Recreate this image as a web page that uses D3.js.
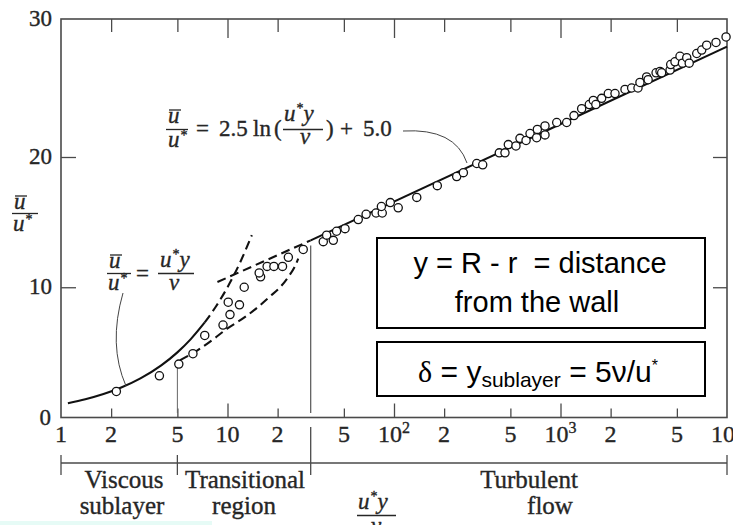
<!DOCTYPE html>
<html><head><meta charset="utf-8">
<script src="https://cdn.jsdelivr.net/npm/d3@7"></script>
<style>body{margin:0;background:#fff;} svg{display:block;}</style>
</head><body>
<script>
// ---------- data ----------
const xTickValues = [1,2,5,10,20,50,100,200,500,1000,2000,5000,10000];
const xTickLabels = ["1","2","5","10","2","5","10","2","5","10","2","5","10"];
const xTickSups   = ["","","","","","","2","","","3","","","4"];
const xMajorTicks = [10,100,1000];
const xMinorTicks = [2,5,20,50,200,500,2000,5000];
const yTickValues = [0,10,20,30];
const yTickLabels = ["0","10","20","30"];

const dataX = [2.15,3.9,5.1,6.2,7.3,9.4,10.35,10.1,11.8,12.6,15.8,15.5,17.3,19.0,21.4,23.2,28.5,
  37.6,39.4,43.2,45.2,50.8,61,68,78,85,84,95,106,137,182,238,261,314,341,
  429,464,486,540,571,621,656,719,726,807,807,949,1089,1205,1340,1489,1574,1630,1767,1937,
  2125,2440,2675,2920,3000,3290,3360,3750,3960,4050,4550,4590,4870,5220,5400,5730,5930,
  6580,7050,7550,8590,9870];
const dataY = [2.0,3.2,4.1,4.9,6.3,7.1,7.9,8.85,8.65,10.0,10.8,11.1,11.6,11.6,11.6,12.3,12.9,
  13.5,14.0,13.6,14.3,14.5,15.2,15.6,15.7,15.7,16.2,16.5,16.1,16.9,17.8,18.5,18.8,19.5,19.4,
  20.3,20.3,20.9,20.8,21.35,21.2,21.7,21.4,22.0,22.25,21.6,22.5,22.5,23.0,23.5,23.8,24.1,23.8,24.25,24.6,
  24.6,24.9,25.0,25.0,25.4,25.8,25.6,26.1,26.2,26.1,26.3,26.7,26.9,27.3,26.8,27.2,26.8,
  27.5,27.75,28.1,28.3,28.7];

const sublayerSolidX = [1.1,1.4,1.8,2.3,3,4,5,6,7.3];
const sublayerSolidY = [1.1,1.4,1.8,2.3,3,4,5,6,7.3];
const sublayerDashX = [7.3,8.5,10,12,14];
const sublayerDashY = [7.3,8.5,10,12,14];
const logLawSolidX = [31.6,10000];
const logLawSolidY = [13.6,28.0];
const logLawDashX = [8.7,31.6];
const logLawDashY = [10.4,13.6];
const transitionDashX = [5.2,6.5,8.2,9.9,12.7,15.3,18,20.7,23.2,25.4,26.6];
const transitionDashY = [4.4,5.1,6.0,6.8,7.7,8.5,9.3,10.0,10.8,11.6,12.2];
const regionBounds = [1,5,31.6,10000];

// ---------- setup ----------
const W = 733, H = 525;
const svg = d3.select("body").append("svg").attr("width",W).attr("height",H);
const x = d3.scaleLog().domain([1,10000]).range([61,727]);
const y = d3.scaleLinear().domain([0,20,30]).range([417.5,157,19]);
const frameCol = "#4a4a4a", textCol = "#262626";
const serif = "'Liberation Serif','Times New Roman',serif";
const sans = "'Liberation Sans',Arial,sans-serif";

// bottom-left artifact strip
svg.append("rect").attr("x",0).attr("y",521).attr("width",212).attr("height",4).attr("fill","#e6fbf6");

// frame
svg.append("rect").attr("x",x(1)).attr("y",y(30)).attr("width",x(10000)-x(1)).attr("height",y(0)-y(30))
  .attr("fill","none").attr("stroke",frameCol).attr("stroke-width",1.6);

function styleAxis(g){ g.select(".domain").remove(); g.selectAll(".tick line").attr("stroke",frameCol).attr("stroke-width",1.3); }
svg.append("g").attr("transform",`translate(0,${y(0)})`)
  .call(d3.axisBottom(x).tickValues(xMinorTicks).tickSizeInner(-9).tickSizeOuter(0).tickFormat("")).call(styleAxis);
svg.append("g").attr("transform",`translate(0,${y(0)})`)
  .call(d3.axisBottom(x).tickValues(xMajorTicks).tickSizeInner(-14).tickSizeOuter(0).tickFormat("")).call(styleAxis);
svg.append("g").attr("transform",`translate(0,${y(30)})`)
  .call(d3.axisTop(x).tickValues(xMinorTicks).tickSizeInner(-13).tickSizeOuter(0).tickFormat("")).call(styleAxis);
svg.append("g").attr("transform",`translate(0,${y(30)})`)
  .call(d3.axisTop(x).tickValues(xMajorTicks).tickSizeInner(-19).tickSizeOuter(0).tickFormat("")).call(styleAxis);
svg.append("g").attr("transform",`translate(${x(1)},0)`)
  .call(d3.axisLeft(y).tickValues([10,20]).tickSizeInner(-15).tickSizeOuter(0).tickFormat("")).call(styleAxis);
svg.append("g").attr("transform",`translate(${x(10000)},0)`)
  .call(d3.axisRight(y).tickValues([10,20]).tickSizeInner(-14).tickSizeOuter(0).tickFormat("")).call(styleAxis);

function heavy(t){ return t.attr("stroke",textCol).attr("stroke-width",0.35); }

// x tick labels
xTickValues.forEach((v,i)=>{
  const t = svg.append("text").attr("x",x(v)).attr("y",442).attr("text-anchor","middle")
    .attr("font-family",serif).attr("font-size",24).attr("fill",textCol).text(xTickLabels[i]);
  heavy(t);
  if (xTickSups[i]) t.append("tspan").attr("dy",-9).attr("font-size",16).text(xTickSups[i]);
});
// y tick labels
yTickValues.forEach((v,i)=>{
  heavy(svg.append("text").attr("x", v===0?51:52).attr("y",y(v)+7).attr("text-anchor","end")
    .attr("font-family",serif).attr("font-size",23).attr("fill",textCol).text(yTickLabels[i]));
});

// boundary vertical lines inside plot
svg.append("line").attr("x1",x(regionBounds[1])).attr("x2",x(regionBounds[1])).attr("y1",y(3.9)).attr("y2",413)
  .attr("stroke","#666").attr("stroke-width",1);
svg.append("line").attr("x1",x(regionBounds[2])).attr("x2",x(regionBounds[2])).attr("y1",y(13.2)).attr("y2",413)
  .attr("stroke","#555").attr("stroke-width",1.2);

// region ruler
svg.append("line").attr("x1",x(1)).attr("x2",x(10000)).attr("y1",463).attr("y2",463).attr("stroke",frameCol).attr("stroke-width",1.4);
regionBounds.forEach((b,i)=>{
  svg.append("line").attr("x1",x(b)).attr("x2",x(b)).attr("y1",i===2?427:455).attr("y2",475)
    .attr("stroke",frameCol).attr("stroke-width",1.3);
});
const regionText = [[124,"Viscous",488],[122,"sublayer",514],[245,"Transitional",488],[244,"region",514],[529,"Turbulent",488],[550,"flow",514]];
regionText.forEach(r=>heavy(svg.append("text").attr("x",r[0]).attr("y",r[2]).attr("text-anchor","middle")
  .attr("font-family",serif).attr("font-size",25).attr("fill",textCol).text(r[1])));

// curves
const line = d3.line().x(d=>x(d[0])).y(d=>y(d[1])).curve(d3.curveMonotoneX);
const zip = (a,b)=>a.map((v,i)=>[v,b[i]]);
function drawLine(xs,ys,dashed){
  svg.append("path").datum(zip(xs,ys)).attr("d",line).attr("fill","none").attr("stroke","#111")
    .attr("stroke-width",2.1).attr("stroke-dasharray",dashed?"9,5":null);
}
drawLine(sublayerSolidX,sublayerSolidY,false);
drawLine(sublayerDashX,sublayerDashY,true);
drawLine(logLawDashX,logLawDashY,true);
drawLine(transitionDashX,transitionDashY,true);
drawLine(logLawSolidX,logLawSolidY,false);

// leaders
svg.append("path").attr("d","M403,131 Q455,128 467,163").attr("fill","none").attr("stroke","#444").attr("stroke-width",1);
svg.append("path").attr("d","M123,293 Q108,345 126,386").attr("fill","none").attr("stroke","#444").attr("stroke-width",1);

// points
svg.append("g").selectAll("circle").data(zip(dataX,dataY)).join("circle")
  .attr("cx",d=>x(d[0])).attr("cy",d=>y(d[1])).attr("r",4.1)
  .attr("fill","#fff").attr("stroke","#111").attr("stroke-width",1.3);

// ---------- math helpers ----------
const MS = 23;
function txt(xp,yp,s,opts={}){
  const t = svg.append("text").attr("x",xp).attr("y",yp).attr("font-family",serif)
    .attr("font-size",opts.size||MS).attr("fill",opts.fill||textCol)
    .attr("text-anchor",opts.anchor||"start");
  heavy(t);
  if (opts.italic) t.attr("font-style","italic");
  if (s!==null) t.text(s);
  return t;
}
function hline(x1,x2,yy,w){ svg.append("line").attr("x1",x1).attr("x2",x2).attr("y1",yy).attr("y2",yy).attr("stroke",textCol).attr("stroke-width",w||1.3); }
function uStar(xl,base){ // u*  (left-aligned)
  const t = txt(xl,base,null,{});
  t.append("tspan").attr("font-style","italic").text("u");
  t.append("tspan").attr("dy",-7).attr("dx",1).attr("font-size",14).text("*");
}
function uBar(xl,base){
  txt(xl,base,"u",{italic:true});
  hline(xl+1,xl+13,base-13,1.3);
}
function uStarY(xl,base){
  const t = txt(xl,base,null,{});
  t.append("tspan").attr("font-style","italic").text("u");
  t.append("tspan").attr("dy",-8).attr("dx",1).attr("font-size",14).text("*");
  t.append("tspan").attr("dy",8).attr("font-style","italic").text("y");
}
function nu(xl,base){ txt(xl,base,"ν",{italic:true}); }

// equation 1: u/u* = 2.5 ln(u*y/nu) + 5.0
uBar(168,123); hline(166,188,129.5); uStar(168,147);
txt(196,136,"="); txt(219,136,"2.5"); txt(253,136,"ln"); txt(274,136,"(");
uStarY(284,121); hline(283,323,129.5); nu(300,144);
txt(326,136,")"); txt(340,136,"+"); txt(363,136,"5.0");

// equation 2: u/u* = u*y/nu
uBar(109,268); hline(107,131,273.5); uStar(108,290);
txt(136,281,"=");
uStarY(160,267); hline(158,194,273.5); nu(169,290);

// y-axis label
uBar(14,209); hline(12,38,213.5); uStar(13,231);
// x-axis label
uStarY(358,509); hline(357,396,515.5); nu(371,533);

// ---------- boxes ----------
svg.append("rect").attr("x",377).attr("y",238).attr("width",328).attr("height",90)
  .attr("fill","#fff").attr("stroke","#000").attr("stroke-width",2);
svg.append("text").attr("x",540).attr("y",273).attr("text-anchor","middle").attr("font-family",sans)
  .attr("font-size",29).attr("fill","#000").attr("xml:space","preserve").text("y = R - r  = distance");
svg.append("text").attr("x",537).attr("y",312).attr("text-anchor","middle").attr("font-family",sans)
  .attr("font-size",29).attr("fill","#000").text("from the wall");

svg.append("rect").attr("x",377).attr("y",342).attr("width",328).attr("height",54)
  .attr("fill","#fff").attr("stroke","#000").attr("stroke-width",2);
const b2 = svg.append("text").attr("x",538).attr("y",382).attr("text-anchor","middle").attr("font-family",sans)
  .attr("font-size",30).attr("fill","#000");
b2.append("tspan").attr("font-family",serif).text("δ");
b2.append("tspan").text(" = y");
b2.append("tspan").attr("dy",5).attr("font-size",21).text("sublayer");
b2.append("tspan").attr("dy",-5).text(" = 5ν/u");
b2.append("tspan").attr("dy",-11).attr("font-size",16).text("*");
</script>
</body></html>
